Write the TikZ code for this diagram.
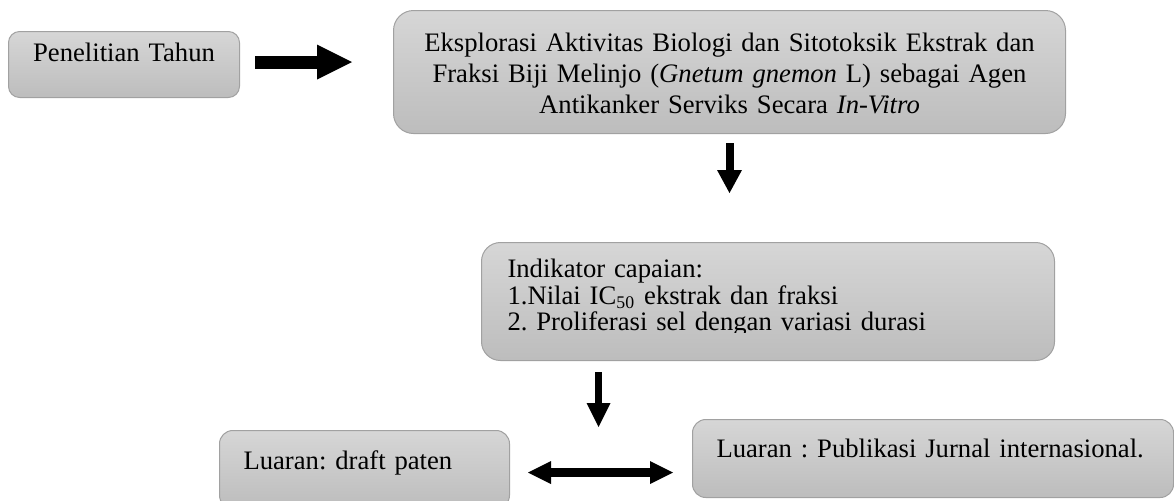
\documentclass[tikz,border=0pt]{standalone}
\usepackage{fontspec}
\setmainfont{Liberation Serif}
\usepackage{trimclip}
\usetikzlibrary{arrows.meta,positioning}
\colorlet{bt}{black!16}
\colorlet{bb}{black!26}
\colorlet{rim}{black!37}
\newcommand{\cutline}[1]{\clipbox{0pt 1.5pt 0pt 0pt}{#1}}
\tikzset{bx/.style={rectangle, rounded corners=#1, draw=rim, line width=0.45pt,
            top color=bt, bottom color=bb, inner ysep=0pt, anchor=north west,
            font=\fontsize{12pt}{13.95pt}\selectfont\frenchspacing},
         fat/.style n args={3}{line width=#1,
            arrows={-Triangle[length=#2, width=#3, line width=0pt]}},
         twin/.style n args={3}{line width=#1,
            arrows={Triangle[length=#2, width=#3, line width=0pt]-Triangle[length=#2, width=#3, line width=0pt]}}}

\begin{document}
\begin{tikzpicture}[x=0.45pt, y=-0.45pt]
\useasboundingbox (0,0) rectangle (1174,500);
\node[bx=5pt, text width=103.95pt, inner xsep=0pt, align=center,
      text height=13.5pt, text depth=16.2pt] (pen) at (8,31) {Penelitian Tahun};
\node[bx=9pt, text width=302.4pt, inner xsep=0pt, align=center,
      text height=18.45pt, text depth=36.9pt] (eks) at (393,10) {
    Eksplorasi Aktivitas Biologi dan Sitotoksik Ekstrak dan\\
    Fraksi Biji Melinjo (\textit{Gnetum gnemon} L) sebagai Agen\\
    Antikanker Serviks Secara \textit{In-Vitro}
};
\node[bx=8.5pt, text width=234.45pt, inner xsep=11.7pt, align=left,
      text height=15.75pt, text depth=37.35pt,
      font=\fontsize{12pt}{11.925pt}\selectfont\frenchspacing] (ind) at (481,242) {
    Indikator capaian:\\
    1.Nilai IC\textsubscript{50} ekstrak dan fraksi\\
    \cutline{2. Proliferasi sel dengan variasi durasi}
};
% bottom row, the left box runs past the page edge
\node[bx=6pt, text width=108.9pt, inner xsep=10.8pt, align=left,
      text height=17.55pt, text depth=17.55pt] (pat) at (219,430) {Luaran: draft paten};
\node[bx=6pt, text width=194.85pt, inner xsep=10.8pt, align=left,
      text height=17.1pt, text depth=18pt] (pub) at (692,419) {Luaran : Publikasi Jurnal internasional.};
\coordinate (fork) at (598.5,427);

\draw[fat={5.85pt}{15.75pt}{15.75pt}, shorten <=6.75pt, shorten >=18.45pt]
    ([yshift=1.1pt]pen.east) -- ([yshift=1.1pt]pen.east -| eks.west);
\draw[fat={3.6pt}{10.35pt}{11.25pt}, shorten <=4.05pt, shorten >=22.05pt]
    (eks.south) -- (eks.south |- ind.north);
\draw[fat={3.15pt}{10.8pt}{10.8pt}, shorten <=4.95pt] (ind.south -| fork) -- (fork);
\draw[twin={3.9pt}{10.35pt}{10.35pt}, shorten <=8.1pt, shorten >=8.55pt]
    ([yshift=-1.35pt]pat.east) -- ([yshift=-1.35pt]pat.east -| pub.west);
\end{tikzpicture}
\end{document}
